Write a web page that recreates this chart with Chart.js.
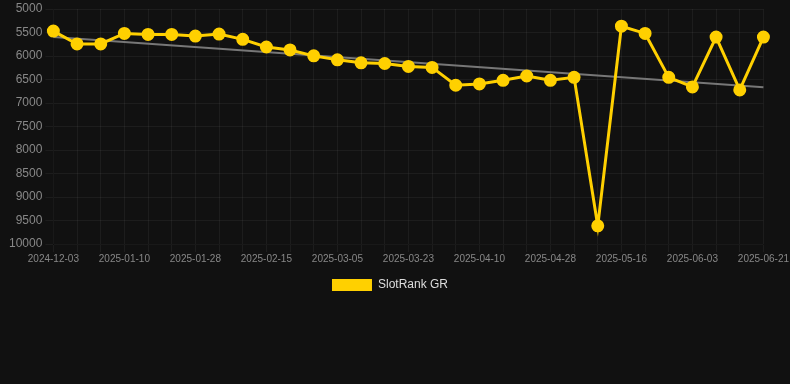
<!DOCTYPE html>
<html>
<head>
<meta charset="utf-8">
<script src="https://cdn.jsdelivr.net/npm/chart.js@4"></script>
<style>
    html, body { margin: 0; padding: 0; background: #111111; }
    #wrap { width: 790px; height: 301px; }
</style>
</head>
<body>
<div id="wrap"><canvas id="rankChart"></canvas></div>
<script>
let dates = ['2024-12-03', '2024-12-29', '2025-01-04', '2025-01-10', '2025-01-16', '2025-01-22',
    '2025-01-28', '2025-02-03', '2025-02-09', '2025-02-15', '2025-02-21', '2025-02-27',
    '2025-03-05', '2025-03-11', '2025-03-17', '2025-03-23', '2025-03-29', '2025-04-04',
    '2025-04-10', '2025-04-16', '2025-04-22', '2025-04-28', '2025-05-04', '2025-05-10',
    '2025-05-16', '2025-05-22', '2025-05-28', '2025-06-03', '2025-06-09', '2025-06-15',
    '2025-06-21']
let ranks = [5470, 5744, 5744, 5520, 5541, 5541, 5576, 5534, 5646, 5808, 5871, 5997,
    6081, 6145, 6159, 6222, 6243, 6622, 6595, 6517, 6426, 6517, 6454, 9614,
    5366, 5520, 6454, 6658, 5597, 6721, 5597]
let trendStart = 5597
let trendEnd = 6665

let trend = dates.map(function (d, i) {
    if (i === 0) return trendStart
    if (i === dates.length - 1) return trendEnd
    return null
})

function createRankChart(elementID) {
    var ctx = document.getElementById(elementID)
    return new Chart(ctx, {
        type: 'line',
        data: {
            labels: dates,
            datasets: [{
                label: 'SlotRank GR',
                data: ranks,
                borderColor: '#ffd000',
                backgroundColor: '#ffd000',
                borderWidth: 3,
                pointRadius: 5,
                pointHoverRadius: 6,
                tension: 0,
                order: 1
            }, {
                label: 'trend',
                data: trend,
                borderColor: '#777777',
                borderWidth: 2,
                pointRadius: 0,
                spanGaps: true,
                order: 2
            }]
        },
        options: {
            responsive: true,
            maintainAspectRatio: false,
            animation: false,
            layout: { padding: { left: 6, right: 16 } },
            scales: {
                x: {
                    grid: { color: 'rgba(255,255,255,0.05)' },
                    ticks: {
                        color: '#888888',
                        font: { size: 10 },
                        padding: 1,
                        autoSkip: false,
                        maxRotation: 0,
                        callback: function (value, index) {
                            return index % 3 === 0 ? dates[index] : ''
                        }
                    }
                },
                y: {
                    reverse: true,
                    min: 5000,
                    max: 10000,
                    grid: { color: 'rgba(255,255,255,0.05)' },
                    ticks: {
                        color: '#888888',
                        font: { size: 12, lineHeight: 0.3 },
                        stepSize: 500,
                        callback: function (value) { return String(value) }
                    }
                }
            },
            plugins: {
                legend: {
                    display: true,
                    position: 'bottom',
                    labels: {
                        color: '#dddddd',
                        font: { size: 12 },
                        padding: 13,
                        filter: function (item) { return item.text !== 'trend' },
                        generateLabels: function (chart) {
                            var items = Chart.defaults.plugins.legend.labels.generateLabels(chart)
                            items.forEach(function (it) {
                                it.lineWidth = 0
                                it.strokeStyle = 'rgba(0,0,0,0)'
                            })
                            return items
                        }
                    }
                },
                tooltip: { enabled: false }
            }
        }
    })
}

createRankChart('rankChart')
</script>
</body>
</html>
